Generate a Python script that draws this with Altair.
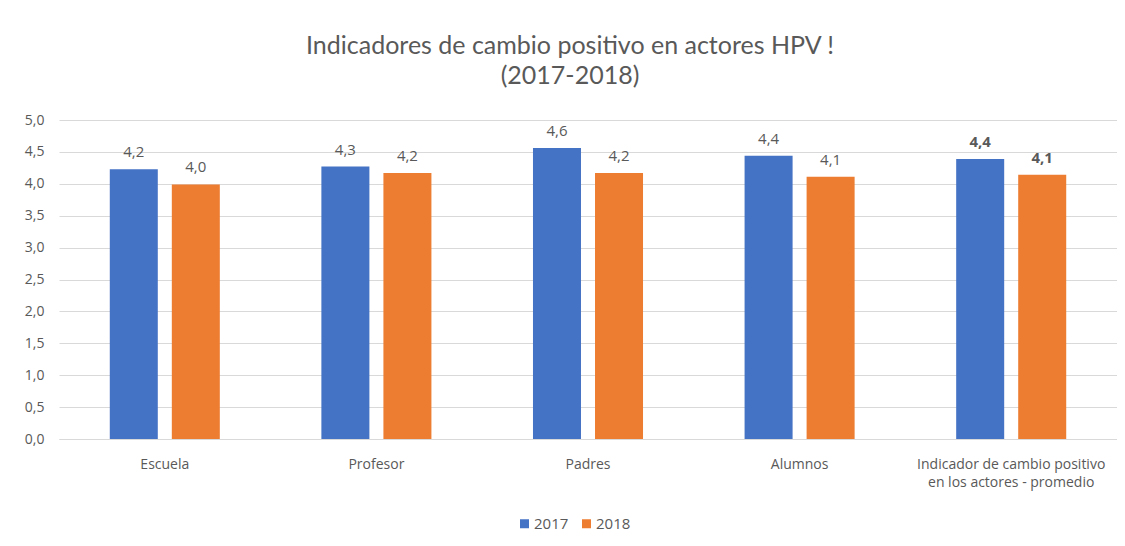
import altair as alt
import pandas as pd

categories = ["Escuela", "Profesor", "Padres", "Alumnos",
              "Indicador de cambio positivo\nen los actores - promedio"]
years = ["2017", "2018"]
values_2017 = [4.23, 4.27, 4.56, 4.44, 4.39]
values_2018 = [3.99, 4.17, 4.17, 4.11, 4.14]
y_ticks = [0, 0.5, 1, 1.5, 2, 2.5, 3, 3.5, 4, 4.5, 5]

rows = []
for i, c in enumerate(categories):
    rows.append({"cat": c, "year": "2017", "v": values_2017[i], "last": i == len(categories) - 1})
    rows.append({"cat": c, "year": "2018", "v": values_2018[i], "last": i == len(categories) - 1})
df = pd.DataFrame(rows)

FONT = "Open Sans"
TFONT = "Lato"
GREY = "#595959"

x = alt.X("cat:N", sort=categories, title=None,
          scale=alt.Scale(paddingInner=0.48, paddingOuter=0.24),
          axis=alt.Axis(labelAngle=0, labelExpr="split(datum.label, '\\n')",
                        labelLineHeight=18, labelPadding=18, ticks=False, labelLimit=400,
                        domainColor="#d9d9d9", labelColor=GREY, labelFontSize=14,
                        labelFont=FONT))
xo = alt.XOffset("year:N", sort=years, scale=alt.Scale(paddingInner=0.226, paddingOuter=0))
y = alt.Y("v:Q", title=None,
          scale=alt.Scale(domain=[0, 5]),
          axis=alt.Axis(values=y_ticks, labelExpr="replace(format(datum.value, '.1f'), '.', ',')",
                        domain=False, ticks=False, labelPadding=15, gridColor="#d9d9d9",
                        labelColor=GREY, labelFontSize=14, labelFont=FONT))

base = alt.Chart(df).encode(x=x, xOffset=xo, y=y)

bars = base.mark_bar().encode(
    color=alt.Color("year:N", sort=years,
                    scale=alt.Scale(domain=years, range=["#4472C4", "#ED7D31"]),
                    legend=alt.Legend(title=None, orient="none", direction="horizontal",
                                      legendX=458, legendY=396, symbolType="square",
                                      symbolSize=81, symbolStrokeWidth=0,
                                      labelFontSize=15, labelColor=GREY, labelFont=FONT,
                                      columnPadding=10, symbolOffset=0, labelOffset=2))
)

lbl = base.transform_calculate(
    t="replace(format(datum.v, '.1f'), '.', ',')"
)
text_normal = lbl.transform_filter("!datum.last").mark_text(
    baseline="bottom", dy=-9, fontSize=15, color=GREY, font=FONT
).encode(text="t:N")
text_bold = lbl.transform_filter("datum.last").mark_text(
    baseline="bottom", dy=-9, fontSize=15, color=GREY, font=FONT, fontWeight="bold"
).encode(text="t:N")

chart = alt.layer(bars, text_normal, text_bold).properties(
    width=1058, height=319,
    autosize=alt.AutoSizeParams(type="none"),
    padding={"left": 51, "top": 112, "right": 0, "bottom": 99},
    title=alt.TitleParams(
        text=["Indicadores de cambio positivo en actores HPV !", "(2017-2018)"],
        fontSize=25, font=TFONT, fontWeight="normal", color=GREY,
        anchor="middle", dx=-18, offset=24, lineHeight=30
    )
).configure_view(stroke=None)

chart.save("out.html", embed_options={"renderer": "svg", "actions": False})
